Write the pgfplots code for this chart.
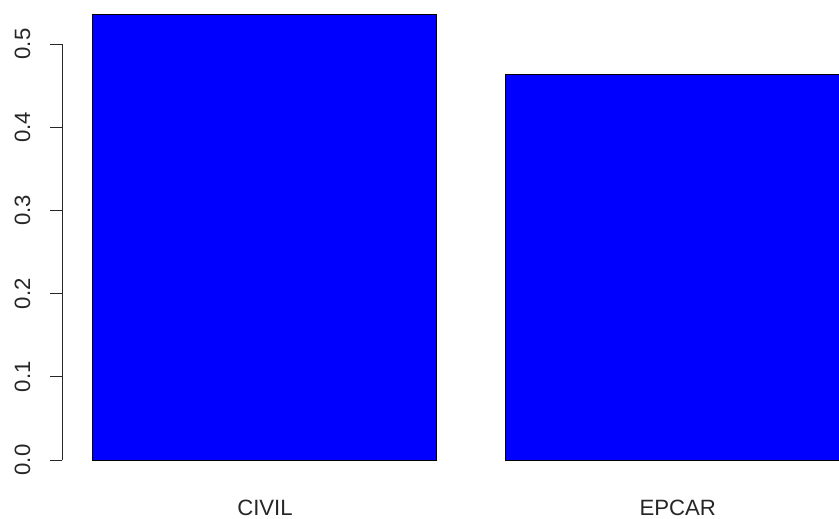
\documentclass[border=0pt]{standalone}
\usepackage{pgfplots}
\pgfplotsset{compat=1.18}
\usepackage{fontspec}
\setmainfont{Liberation Sans}
\begin{document}
\begin{tikzpicture}
\begin{axis}[
  scale only axis,
  x=206.4pt, y=499.2pt,
  xmin=0.11, xmax=2.488,
  ymin=-0.0214, ymax=0.5529,
  clip=false,
  axis x line*=bottom,
  axis y line*=left,
  x axis line style={draw=none},
  y axis line style={draw=none},
  xtick={0.7,1.9},
  xticklabels={CIVIL,EPCAR},
  xtick style={draw=none},
  ytick={0,0.1,0.2,0.3,0.4,0.5},
  tick align=outside,
  major tick length=7.2pt,
  ytick style={black!70!gray, line width=0.6pt},
  /pgf/number format/assume math mode=true,
  /pgf/number format/fixed,
  /pgf/number format/fixed zerofill,
  /pgf/number format/precision=1,
  ticklabel style={font=\fontsize{13.3}{15}\selectfont, text=black!85},
  yticklabel style={rotate=90, anchor=base, inner sep=0pt, yshift=12pt},
  xticklabel style={anchor=base, inner sep=0pt, yshift=-15.2pt},
]
\addplot[ybar, bar width=1, fill=blue, draw=black, line width=0.6pt] coordinates {(0.7,0.536) (1.9,0.463)};
\draw[black!70!gray, line width=0.6pt] (axis cs:0.11,0) -- (axis cs:0.11,0.5);
\coordinate (bbsw) at (axis cs:-0.0703,-0.0697);
\coordinate (bbne) at (axis cs:2.3686,0.5529);
\end{axis}
\pgfresetboundingbox
\path[use as bounding box] (bbsw) rectangle (bbne);
\end{tikzpicture}
\end{document}
